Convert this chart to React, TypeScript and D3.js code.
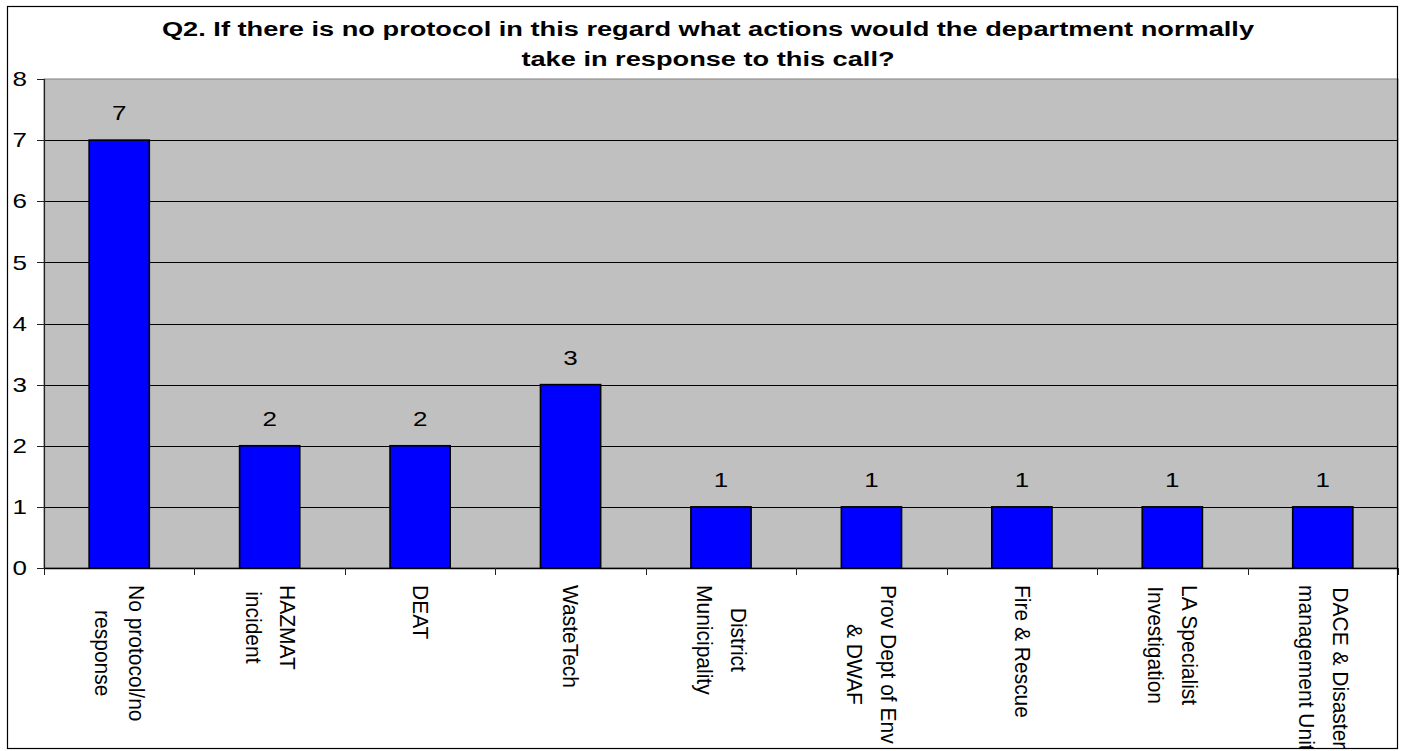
import React, { useEffect, useRef } from "react";
import * as d3 from "d3";

const categories: string[] = [
  "No protocol/no\nresponse",
  "HAZMAT\nincident",
  "DEAT",
  "WasteTech",
  "District\nMunicipality",
  "Prov Dept of Env\n& DWAF",
  "Fire & Rescue",
  "LA Specialist\nInvestigation",
  "DACE & Disaster\nmanagement Unit",
];
const values: number[] = [7, 2, 2, 3, 1, 1, 1, 1, 1];
const yTicks: number[] = [0, 1, 2, 3, 4, 5, 6, 7, 8];
const titleLines: string[] = [
  "Q2. If there is no protocol in this regard what actions would the department normally",
  "take in response to this call?",
];

const W = 1402;
const H = 751;
const FONT = "'Liberation Sans', Arial, Helvetica, sans-serif";

export default function App() {
  const ref = useRef<SVGSVGElement | null>(null);

  useEffect(() => {
    const svg = d3.select(ref.current);
    svg.selectAll("*").remove();

    const left = 44, right = 1398, top = 79, bottom = 568;
    const x = d3.scaleBand<string>().domain(categories).range([left, right]).paddingInner(0.6).paddingOuter(0.3);
    const y = d3.scaleLinear().domain([0, 8]).range([bottom, top]);
    const step = x.step();
    const off = (step - x.bandwidth()) / 2;

    svg.append("rect").attr("x", 0).attr("y", 0).attr("width", W).attr("height", H).attr("fill", "#fff");

    const defs = svg.append("defs");
    defs.append("clipPath").attr("id", "outer").append("rect")
      .attr("x", 7).attr("y", 6).attr("width", 1390).attr("height", 742);

    // plot area
    svg.append("rect").attr("x", left).attr("y", top).attr("width", right - left).attr("height", bottom - top)
      .attr("fill", "#C0C0C0").attr("stroke", "#808080").attr("stroke-width", 1);

    // gridlines
    svg.append("g").selectAll("line").data(yTicks.filter((t) => t > 0 && t < 8)).join("line")
      .attr("x1", left).attr("x2", right).attr("y1", (d) => Math.round(y(d)) + 0.5).attr("y2", (d) => Math.round(y(d)) + 0.5)
      .attr("stroke", "#000").attr("stroke-width", 1);

    // bars
    svg.append("g").selectAll("rect").data(values).join("rect")
      .attr("x", (_d, i) => x(categories[i])!)
      .attr("y", (d) => y(d))
      .attr("width", x.bandwidth())
      .attr("height", (d) => bottom - y(d))
      .attr("fill", "#0000FF").attr("stroke", "#000").attr("stroke-width", 1.6);

    // y axis
    svg.append("line").attr("x1", left + 0.5).attr("x2", left + 0.5).attr("y1", top).attr("y2", bottom)
      .attr("stroke", "#222").attr("stroke-width", 1.2);
    svg.append("g").selectAll("line").data(yTicks).join("line")
      .attr("x1", 37).attr("x2", left).attr("y1", (d) => Math.round(y(d)) + 0.5).attr("y2", (d) => Math.round(y(d)) + 0.5)
      .attr("stroke", "#222").attr("stroke-width", 1);
    svg.append("g").selectAll("text").data(yTicks).join("text")
      .attr("transform", (d) => `translate(27,${y(d)}) scale(1.3,1)`)
      .attr("text-anchor", "end").attr("dy", "0.36em")
      .attr("font-family", FONT).attr("font-size", 20).attr("fill", "#000")
      .text((d) => String(d));

    // x axis
    svg.append("line").attr("x1", left).attr("x2", right).attr("y1", bottom + 0.5).attr("y2", bottom + 0.5)
      .attr("stroke", "#000").attr("stroke-width", 1.5);
    const bounds = categories.map((c) => x(c)! - off).concat([right]);
    svg.append("g").selectAll("line").data(bounds).join("line")
      .attr("x1", (d) => Math.round(d) + 0.5).attr("x2", (d) => Math.round(d) + 0.5)
      .attr("y1", bottom).attr("y2", bottom + 7)
      .attr("stroke", "#222").attr("stroke-width", 1);

    // value labels
    svg.append("g").selectAll("text").data(values).join("text")
      .attr("transform", (d, i) => `translate(${x(categories[i])! + x.bandwidth() / 2},${y(d) - 20}) scale(1.3,1)`)
      .attr("text-anchor", "middle")
      .attr("font-family", FONT).attr("font-size", 20).attr("fill", "#000")
      .text((d) => String(d));

    // category labels (rotated)
    const sx = 1.08;
    const lineGap = 34;
    const lab = svg.append("g").attr("clip-path", "url(#outer)");
    categories.forEach((c) => {
      const lines = c.split("\n");
      const n = lines.length;
      const cx = x(c)! + x.bandwidth() / 2;
      const g = lab.append("g").attr("transform", `translate(${cx},585) scale(${sx},1) rotate(90)`);
      const texts = lines.map((ln, i) => {
        const b = 7.5 - (((n - 1) / 2 - i) * lineGap + 1) / sx;
        return g.append("text").attr("y", b).attr("font-family", FONT).attr("font-size", 21)
          .attr("fill", "#000").attr("text-anchor", "middle").text(ln);
      });
      const lens = texts.map((t) => (t.node() as SVGTextElement).getComputedTextLength());
      const maxLen = d3.max(lens) || 0;
      texts.forEach((t) => t.attr("x", maxLen / 2));
    });

    // title
    svg.append("g").selectAll("text").data(titleLines).join("text")
      .attr("transform", (_d, i) => `translate(708,${36 + i * 30}) scale(1.36,1)`)
      .attr("text-anchor", "middle")
      .attr("font-family", FONT).attr("font-size", 20).attr("font-weight", "bold").attr("fill", "#000")
      .text((d) => d);

    // outer border
    svg.append("rect").attr("x", 7.5).attr("y", 6.5).attr("width", 1390).attr("height", 742)
      .attr("fill", "none").attr("stroke", "#000").attr("stroke-width", 1.2);
  }, []);

  return (
    <svg
      ref={ref}
      width={W}
      height={H}
      style={{ position: "absolute", left: 0, top: 0, display: "block" }}
    />
  );
}
